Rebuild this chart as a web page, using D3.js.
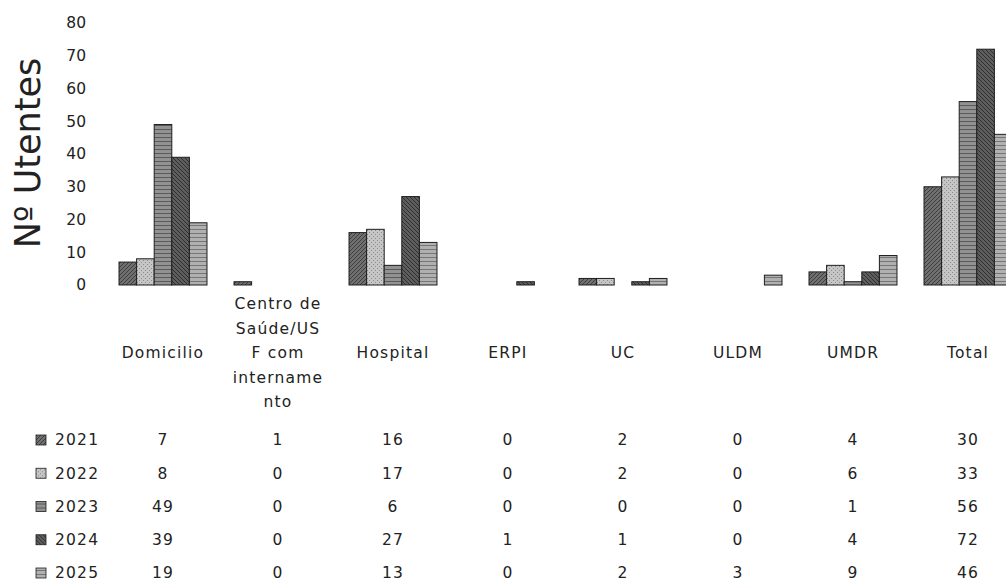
<!DOCTYPE html>
<html>
<head>
<meta charset="utf-8">
<script src="https://cdn.jsdelivr.net/npm/d3@7"></script>
<style>
  body { margin: 0; background: #fff; }
  text { font-family: "DejaVu Sans", sans-serif; fill: #222; }
</style>
</head>
<body>
<div id="chart"></div>
<script>
// categories and wrapped axis labels
const categories = ["Domicilio", "Centro de Saúde/USF com internamento", "Hospital", "ERPI", "UC", "ULDM", "UMDR", "Total"];
const labelLines = [
  ["Domicilio"],
  ["Centro de", "Saúde/US", "F com", "intername", "nto"],
  ["Hospital"], ["ERPI"], ["UC"], ["ULDM"], ["UMDR"], ["Total"]
];
const years = ["2021", "2022", "2023", "2024", "2025"];
const v2021 = [7, 1, 16, 0, 2, 0, 4, 30];
const v2022 = [8, 0, 17, 0, 2, 0, 6, 33];
const v2023 = [49, 0, 6, 0, 0, 0, 1, 56];
const v2024 = [39, 0, 27, 1, 1, 0, 4, 72];
const v2025 = [19, 0, 13, 0, 2, 3, 9, 46];
const yTicks = [0, 10, 20, 30, 40, 50, 60, 70, 80];

const series = [v2021, v2022, v2023, v2024, v2025];

const width = 1006, height = 585;

const svg = d3.select("#chart").append("svg")
  .attr("width", width)
  .attr("height", height);

// grainy grey fills, one per year
const defs = svg.append("defs");
const pats = [
  { bg: "#707070", fg: "#3c3c3c", kind: "diag" },
  { bg: "#c6c6c6", fg: "#8a8a8a", kind: "dots" },
  { bg: "#929292", fg: "#5a5a5a", kind: "horiz" },
  { bg: "#5e5e5e", fg: "#2e2e2e", kind: "diag2" },
  { bg: "#b0b0b0", fg: "#767676", kind: "horiz" }
];
pats.forEach((p, i) => {
  const pat = defs.append("pattern")
    .attr("id", "pat" + i)
    .attr("patternUnits", "userSpaceOnUse")
    .attr("width", 4).attr("height", 4);
  pat.append("rect").attr("width", 4).attr("height", 4).attr("fill", p.bg);
  if (p.kind === "diag") {
    pat.append("path").attr("d", "M0,4 L4,0 M-1,1 L1,-1 M3,5 L5,3").attr("stroke", p.fg).attr("stroke-width", 1);
  } else if (p.kind === "diag2") {
    pat.append("path").attr("d", "M0,0 L4,4 M-1,3 L1,5 M3,-1 L5,1").attr("stroke", p.fg).attr("stroke-width", 1);
  } else if (p.kind === "dots") {
    pat.append("rect").attr("x", 0).attr("y", 0).attr("width", 1).attr("height", 1).attr("fill", p.fg);
    pat.append("rect").attr("x", 2).attr("y", 2).attr("width", 1).attr("height", 1).attr("fill", p.fg);
  } else {
    pat.append("rect").attr("x", 0).attr("y", 1).attr("width", 4).attr("height", 1).attr("fill", p.fg);
  }
});

const x = d3.scaleBand()
  .domain(categories)
  .range([105.5, 1025.5])
  .paddingInner(0.235)
  .paddingOuter(0.1175);

const xSub = d3.scaleBand()
  .domain(years)
  .range([0, x.bandwidth()]);

const y = d3.scaleLinear().domain([0, 80]).range([285, 23]);

// y axis (labels only, no line)
const yAxis = svg.append("g")
  .attr("transform", "translate(86,0)")
  .call(d3.axisLeft(y).tickValues(yTicks).tickSize(0).tickPadding(0));
yAxis.select(".domain").remove();
yAxis.selectAll("text")
  .style("font-family", '"DejaVu Sans", sans-serif')
  .style("font-size", "15.5px")
  .attr("fill", "#222");

svg.append("text")
  .attr("transform", "translate(40,153) rotate(-90)")
  .attr("text-anchor", "middle")
  .style("font-size", "35px")
  .text("Nº Utentes");

// bars
const groups = svg.append("g").selectAll("g")
  .data(categories)
  .join("g")
  .attr("transform", d => `translate(${x(d)},0)`);

groups.selectAll("rect")
  .data((d, ci) => years.map((yr, si) => ({ yr, si, v: series[si][ci] })).filter(e => e.v > 0))
  .join("rect")
  .attr("x", d => xSub(d.yr))
  .attr("y", d => y(d.v))
  .attr("width", xSub.bandwidth())
  .attr("height", d => y(0) - y(d.v))
  .attr("fill", d => `url(#pat${d.si})`)
  .attr("stroke", "#1e1e1e")
  .attr("stroke-width", 1);

// category labels
const lineH = 24.5;
const labels = svg.append("g").selectAll("text")
  .data(categories)
  .join("text")
  .attr("text-anchor", "middle")
  .style("font-size", "15.5px")
  .style("letter-spacing", "1.2px");
labels.each(function (d, i) {
  const lines = labelLines[i];
  const cx = x(d) + x.bandwidth() / 2;
  const startY = 353 - (lines.length - 1) / 2 * lineH;
  d3.select(this).selectAll("tspan")
    .data(lines)
    .join("tspan")
    .attr("x", cx)
    .attr("y", (l, k) => startY + k * lineH)
    .attr("dy", "0.35em")
    .text(l => l);
});

// data table
const rowY = d3.scalePoint().domain(years).range([440, 573]);

const rows = svg.append("g").selectAll("g")
  .data(years)
  .join("g")
  .attr("transform", d => `translate(0,${rowY(d)})`);

rows.append("rect")
  .attr("x", 36).attr("y", -5)
  .attr("width", 10).attr("height", 10)
  .attr("fill", (d, i) => `url(#pat${i})`)
  .attr("stroke", "#1e1e1e")
  .attr("stroke-width", 0.8);

rows.append("text")
  .attr("x", 55)
  .attr("dy", "0.35em")
  .style("font-size", "15.5px")
  .style("letter-spacing", "1.2px")
  .text(d => d);

rows.each(function (yr, si) {
  d3.select(this).selectAll("text.val")
    .data(series[si])
    .join("text")
    .attr("class", "val")
    .attr("x", (v, ci) => x(categories[ci]) + x.bandwidth() / 2)
    .attr("dy", "0.35em")
    .attr("text-anchor", "middle")
    .style("font-size", "15.5px")
    .style("letter-spacing", "1.2px")
    .text(v => v);
});
</script>
</body>
</html>
